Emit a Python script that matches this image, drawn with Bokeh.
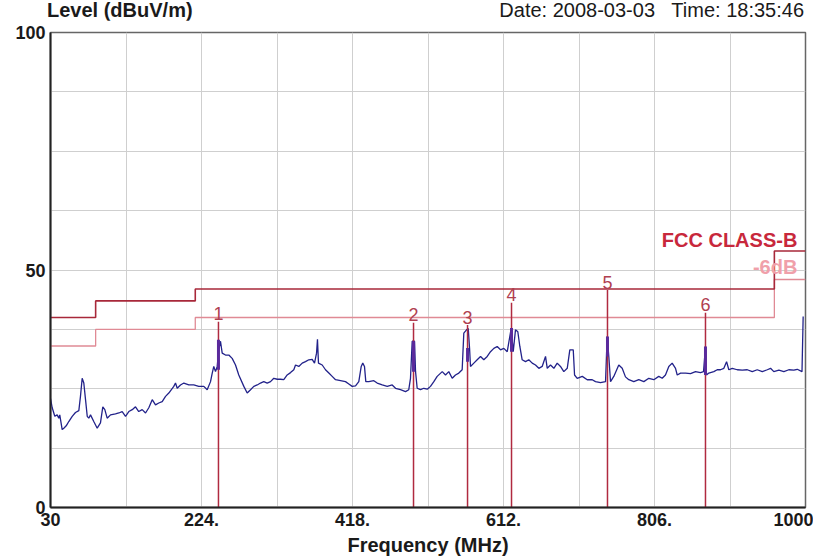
from bokeh.plotting import figure
from bokeh.models import FixedTicker, Label, Range1d, Div
from bokeh.layouts import column
from bokeh.embed import file_html
from bokeh.resources import INLINE

# ---- data ----
freq = [30, 32.2, 35.5, 38.6, 40.7, 41.9, 45, 47.1, 50.2, 53.5, 57.9, 62.1, 66.4, 68.5, 70.7, 72.8, 75, 77.2,
        79.2, 81.4, 85.6, 90, 94.2, 97.2, 99.8, 102.8, 107.1, 113.5, 117.8, 122.1, 126.4, 130.6, 135, 139.2,
        143.4, 147.8, 152.1, 156.3, 160.7, 164.9, 169.1, 173.5, 177.8, 182, 188.4, 190.6, 192.8, 197, 201.3,
        207.7, 214.1, 220.5, 227, 231.3, 235.6, 237.8, 239.8, 242, 244.2, 246.2, 248.4, 250.6, 254.8, 259.1,
        263.4, 267.7, 271.9, 278.4, 282.7, 287, 291.2, 295.6, 299.8, 304, 308.4, 312.7, 316.9, 321.3, 325.5,
        329.7, 334.1, 338.4, 342.6, 344.8, 349, 353.4, 357.6, 361.9, 366.2, 369.2, 371.8, 373, 374.3, 379.1,
        383.3, 387.6, 391.9, 396.2, 402.6, 409, 413.3, 417.6, 421.9, 426.1, 429.2, 431.2, 433.4, 435.1, 438.9,
        445.4, 449.7, 456.2, 462.6, 469, 473.3, 479.7, 486.1, 490.3, 492.5, 494.7, 497.7, 499, 501.1, 505.4,
        509.6, 514, 518.2, 522.5, 526.8, 533.3, 537.5, 541.7, 546.1, 550.3, 554.6, 558.9, 561, 564.5, 566.7,
        568.4, 569.6, 573.9, 578.2, 582.5, 586.7, 591.1, 595.3, 599.6, 603.9, 608.2, 612.4, 616.8, 620.1,
        621.9, 624.5, 627.4, 630.4, 633, 636, 640.3, 644.5, 648.9, 653.1, 657.4, 661.7, 666, 668.2, 672.4,
        676.7, 681, 685.2, 689.5, 693.9, 697.2, 701.6, 703.3, 706.7, 713.2, 719.6, 726, 730.2, 736.6, 743.1,
        745.2, 747.3, 749.5, 753.7, 760.1, 764.5, 768.7, 773, 779.4, 785.8, 792.3, 798.7, 805.1, 811.5,
        815.9, 820.1, 824.4, 828.7, 833, 835.2, 839.5, 845.9, 852.3, 858.7, 865.1, 869, 871.5, 872.8, 875.8,
        882.2, 886.6, 890.8, 895.1, 898.6, 901.5, 905.9, 912.3, 918.8, 925.2, 931.6, 938, 944.5, 950.9,
        955.1, 959.3, 965.8, 972.2, 978.6, 985, 989.4, 995.5, 997]
level = [22.9, 21, 19.2, 19.5, 18.8, 19.5, 16.4, 16.7, 17.2, 18.1, 19.2, 20, 20.4, 23.4, 27.2, 26.2, 22.7, 19.2,
         18.8, 19.5, 18.1, 16.7, 17.8, 21.2, 20.6, 18.8, 19.5, 19.7, 19.9, 20.2, 19.2, 20.2, 20.6, 21.2,
         20.2, 20.6, 19.9, 21, 22.7, 21.6, 22, 22.3, 23.4, 24.1, 25.5, 26.2, 25.1, 25.8, 26.2,
         25.8, 25.8, 25.5, 25.5, 24.8, 26.5, 28.3, 29.7, 28.6, 29.7, 33.2, 35, 32.5, 32.1, 32.1,
         31.4, 30, 27.9, 25.5, 24.1, 24.8, 25.5, 25.8, 26.2, 26.5, 26.2, 26.5, 27.2, 27, 27,
         26.9, 27.9, 28.4, 29, 30, 29.7, 30.4, 30.7, 31.1, 31.2, 30.4, 32.5, 35.4, 30.4, 30,
         29, 28.3, 27.6, 26.9, 26.7, 26.5, 26, 25.5, 25.6, 26.5, 29.7, 30.4, 29.7, 26.5, 26.5,
         26.7, 26.2, 25.8, 25.5, 25.8, 25.1, 24.8, 24.4, 24.8, 27.2, 35, 35, 28.6, 25.1, 24.8,
         25.1, 24.9, 25.5, 26.5, 27.6, 28.6, 27.9, 28.6, 27.2, 27.9, 28.3, 29, 36.7, 37.4, 37.7,
         33.5, 29.7, 30.4, 31.1, 31.8, 31.1, 31.8, 32.8, 33.5, 33.9, 33.2, 33.5, 32.8, 36,
         37.7, 32.8, 37.4, 37, 33.9, 31.1, 30.7, 31.1, 30.4, 30, 29.3, 29.7, 31.8, 29.3, 30,
         29.3, 30.4, 29.7, 28.6, 29.3, 33.2, 33.2, 27.9, 27.2, 27.6, 26.9, 26.9, 26.5, 26.3, 26.5,
         36, 31.8, 26.5, 27.6, 30, 29.3, 27.5, 26.9, 26.5, 26.9, 26.5, 27.2, 26.9, 27.6,
         27.2, 27.9, 29.7, 30.4, 29.3, 27.9, 28.3, 28.3, 28.2, 28.6, 28.4, 28.6, 33.9, 27.9, 28.3,
         28.6, 29, 29, 29.3, 30.7, 29, 29.3, 29, 28.9, 29, 28.6, 29, 28.6, 29,
         29.3, 28.6, 28.9, 28.6, 29, 28.9, 29.1, 28.6, 40.2]

limit_freq = [30, 88, 88, 216, 216, 960, 960, 1000]
limit_b = [40, 40, 43.5, 43.5, 46, 46, 54, 54]
limit_6db = [34, 34, 37.5, 37.5, 40, 40, 48, 48]

marker_ids = ["1", "2", "3", "4", "5", "6"]
marker_freq = [245.8, 496.4, 565.8, 622.3, 745.6, 871.5]
marker_top = [39.1, 38.9, 38.4, 43.1, 45.8, 41.0]
marker_bar_lo = [29.0, 28.6, 30.7, 32.8, 31.8, 27.9]
marker_bar_hi = [35.3, 35.0, 33.6, 37.8, 36.0, 33.9]

x_ticks = [30, 224, 418, 612, 806, 1000]
x_tick_labels = ["30", "224.", "418.", "612.", "806.", "1000"]
x_grid = [30, 127, 224, 321, 418, 515, 612, 709, 806, 903, 1000]
y_ticks = [0, 50, 100]
y_grid = [0, 12.5, 25, 37.5, 50, 62.5, 75, 87.5, 100]

y_title = "Level (dBuV/m)"
stamp = "Date: 2008-03-03&nbsp;&nbsp; Time: 18:35:46"

FONT = "Liberation Sans"

header = Div(
    text=(f'<div style="box-sizing:border-box;display:flex;justify-content:space-between;width:805px;'
          f'padding-left:47px;padding-right:1px;font-family:\'{FONT}\';color:#1a1a1a;line-height:20px;'
          f'white-space:nowrap;">'
          f'<span style="font-size:20px;font-weight:bold;">{y_title}</span>'
          f'<span style="font-size:20px;">{stamp}</span></div>'),
    width=813, height=20, margin=(0, 0, 0, 0))

p = figure(width=813, height=538, output_backend="svg", toolbar_location=None,
           x_range=Range1d(30, 1000), y_range=Range1d(0, 100),
           min_border_left=50, min_border_right=8, min_border_top=12, min_border_bottom=50,
           margin=(0, 0, 0, 0))
p.background_fill_color = "white"
p.border_fill_color = "white"
p.outline_line_color = "#666666"
p.outline_line_width = 1.5

# grid
p.xgrid.ticker = FixedTicker(ticks=x_grid)
p.ygrid.ticker = FixedTicker(ticks=y_grid)
p.xgrid.grid_line_color = "#cfcfcf"
p.ygrid.grid_line_color = "#cfcfcf"

# axes
p.xaxis.ticker = FixedTicker(ticks=x_ticks)
p.xaxis.major_label_overrides = {t: l for t, l in zip(x_ticks, x_tick_labels)}
p.yaxis.ticker = FixedTicker(ticks=y_ticks)
for ax in (p.xaxis[0], p.yaxis[0]):
    ax.major_tick_line_color = None
    ax.minor_tick_line_color = None
    ax.major_tick_out = 0
    ax.major_tick_in = 0
    ax.minor_tick_out = 0
    ax.axis_line_color = "#222222"
    ax.axis_line_width = 2
    ax.major_label_text_font = FONT
    ax.major_label_text_font_style = "bold"
    ax.major_label_text_font_size = "18px"
    ax.major_label_text_color = "#1a1a1a"
p.xaxis.major_label_standoff = 5
p.yaxis.major_label_standoff = 5
p.xaxis.axis_label = "Frequency (MHz)"
p.xaxis.axis_label_text_font = FONT
p.xaxis.axis_label_text_font_style = "bold"
p.xaxis.axis_label_text_font_size = "20px"
p.xaxis.axis_label_text_color = "#1a1a1a"
p.xaxis.axis_label_standoff = 5

# limit lines
p.line(limit_freq, limit_6db, line_color="#e08a95", line_width=1.3)
p.line(limit_freq, limit_b, line_color="#a8283a", line_width=1.6)

# trace
p.line(freq, level, line_color="#22228a", line_width=1.3)

# markers
p.segment(x0=marker_freq, y0=[0] * 6, x1=marker_freq, y1=marker_top, line_color="#b02a40", line_width=1.5)
p.segment(x0=marker_freq, y0=marker_bar_lo, x1=marker_freq, y1=marker_bar_hi, line_color="#5a2a9c", line_width=3)
for mid, mf, mt in zip(marker_ids, marker_freq, marker_top):
    p.add_layout(Label(x=mf, y=mt + 0.3, text=mid, text_align="center", text_baseline="bottom",
                       text_font=FONT, text_font_size="18px", text_color="#b04050"))

# legend-like texts
p.add_layout(Label(x=989.5, y=56.3, text="FCC CLASS-B", text_align="right", text_baseline="middle",
                   text_font=FONT, text_font_style="bold", text_font_size="20px", text_color="#c8283c"))
p.add_layout(Label(x=989.5, y=50.6, text="-6dB", text_align="right", text_baseline="middle",
                   text_font=FONT, text_font_style="bold", text_font_size="20px", text_color="#f0a0aa"))

layout = column(header, p, spacing=0, margin=(0, 0, 0, 0))
open("out.html", "w").write(file_html(layout, INLINE))
